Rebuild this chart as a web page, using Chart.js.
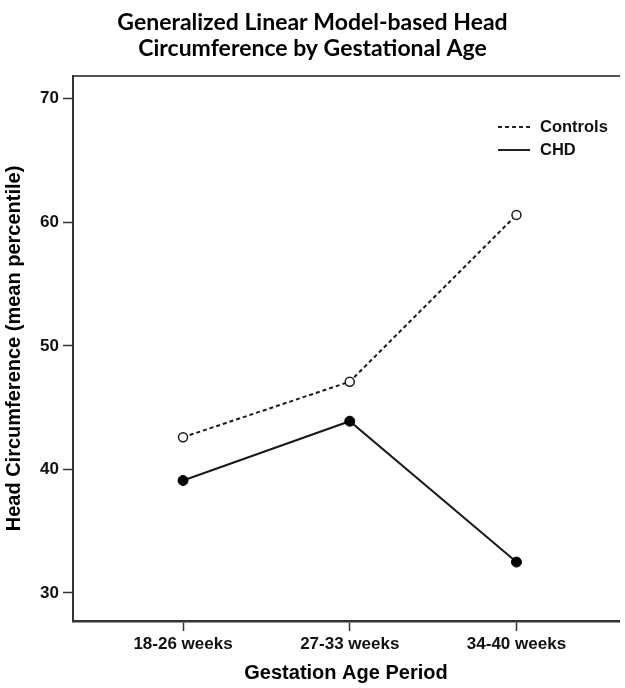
<!DOCTYPE html>
<html>
<head>
<meta charset="utf-8">
<script src="https://cdn.jsdelivr.net/npm/chart.js@4.4.1/dist/chart.umd.min.js"></script>
<style>
  body { margin: 0; background: #fff; }
  #wrap { position: relative; width: 625px; height: 688px; }
  .legend { position: absolute; left: 498px; font: bold 16.5px "Liberation Sans", Arial, sans-serif; color: #111; }
  .legend .row { display: flex; align-items: center; height: 23px; }
  .legend .sample { width: 32px; height: 2px; margin-right: 10px; }
  .dash { background: repeating-linear-gradient(to right, #222 0 4px, transparent 4px 7px); }
  .solid { background: #222; }
</style>
</head>
<body>
<div id="wrap">
  <canvas id="chart" width="625" height="688"></canvas>
  <div class="legend" style="top:115px">
    <div class="row"><span class="sample dash"></span>Controls</div>
    <div class="row"><span class="sample solid"></span>CHD</div>
  </div>
</div>
<script>
const categories = ["18-26 weeks", "27-33 weeks", "34-40 weeks"];
const controls = [42.6, 47.1, 60.6];
const chd = [39.1, 43.9, 32.5];
const yTicks = [30, 40, 50, 60, 70];

const ink = "#1a1a1a";
const tickFont = { family: "'Liberation Sans', Arial, sans-serif", size: 17, weight: "bold" };
const titleFont = { family: "'Liberation Sans', Arial, sans-serif", size: 20, weight: "bold" };

function points(values) {
    return values.map((v, i) => ({ x: i, y: v }));
}

new Chart(document.getElementById("chart"), {
    type: "line",
    data: {
        datasets: [
            {
                label: "Controls",
                data: points(controls),
                borderColor: ink,
                borderWidth: 2,
                borderDash: [4, 3],
                pointRadius: 4.5,
                pointBackgroundColor: "#fff",
                pointBorderColor: ink,
                pointBorderWidth: 1.5
            },
            {
                label: "CHD",
                data: points(chd),
                borderColor: ink,
                borderWidth: 2,
                pointRadius: 5,
                pointBackgroundColor: "#000",
                pointBorderColor: "#000",
                pointBorderWidth: 1
            }
        ]
    },
    options: {
        responsive: false,
        animation: false,
        layout: { padding: 0 },
        plugins: {
            legend: { display: false },
            tooltip: { enabled: false },
            title: {
                display: true,
                text: ["Generalized Linear Model-based Head", "Circumference by Gestational Age"],
                color: "#000",
                font: { family: "Lato, 'Open Sans', sans-serif", size: 23, weight: "bold", lineHeight: 1.15 },
                padding: { top: 9, bottom: 14 }
            }
        },
        scales: {
            x: {
                type: "linear",
                min: -0.66,
                max: 2.615,
                afterBuildTicks: s => { s.ticks = categories.map((c, i) => ({ value: i })); },
                afterFit: s => { s.height = 67; },
                ticks: {
                    callback: v => categories[v],
                    color: "#111",
                    font: tickFont,
                    padding: 3,
                    autoSkip: false,
                    maxRotation: 0
                },
                grid: { drawOnChartArea: false, tickLength: 10, color: "#333", tickWidth: 1.5 },
                border: { color: "#333", width: 2.5 },
                title: {
                    display: true,
                    text: "Gestation Age Period",
                    color: "#000",
                    font: titleFont,
                    padding: { top: 6, bottom: 3 }
                }
            },
            xTop: {
                type: "linear",
                position: "top",
                min: -0.66,
                max: 2.615,
                afterFit: s => { s.height = 0; },
                ticks: { display: false },
                grid: { display: false },
                border: { color: "#555", width: 2 }
            },
            y: {
                min: 27.73,
                max: 71.85,
                afterBuildTicks: s => { s.ticks = yTicks.map(v => ({ value: v })); },
                afterFit: s => { s.width = 73; },
                ticks: { color: "#111", font: tickFont, padding: 4 },
                grid: { drawOnChartArea: false, tickLength: 10, color: "#333", tickWidth: 1.5 },
                border: { color: "#333", width: 2 },
                title: {
                    display: true,
                    text: "Head Circumference (mean percentile)",
                    color: "#000",
                    font: titleFont,
                    padding: { top: 2, bottom: 2 }
                }
            }
        }
    }
});
</script>
</body>
</html>
